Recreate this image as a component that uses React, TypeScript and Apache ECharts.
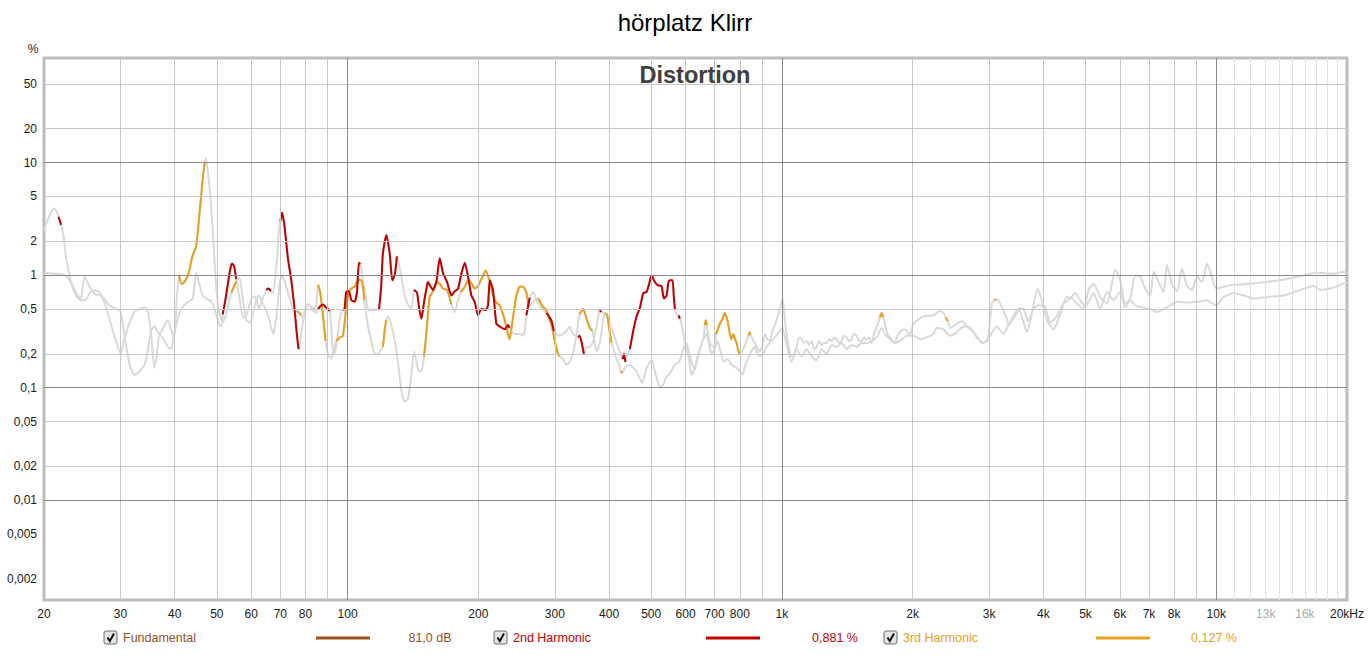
import React, { useEffect, useRef } from "react";
import * as echarts from "echarts";

// ---------- data (frequency in Hz, distortion in %) ----------
const h2Low: [number, number][] = [
  [20, 2.5], [20.6, 3.4], [21.1, 3.9], [21.4, 3.7], [21.6, 3.3], [21.9, 2.8], [22.2, 2.2], [22.5, 1.4],
  [23.1, 0.86], [23.7, 0.66], [24.3, 0.6], [24.9, 0.6], [25.5, 0.7], [26.2, 0.74], [26.9, 0.7], [27.5, 0.58],
  [28.1, 0.45], [28.8, 0.32], [29.4, 0.25], [30.0, 0.2], [30.6, 0.27], [31.5, 0.38], [32.3, 0.47], [33.2, 0.5],
  [34.1, 0.52], [34.7, 0.47], [35.3, 0.3], [35.9, 0.15], [36.4, 0.2], [36.9, 0.3], [37.9, 0.26], [38.6, 0.23],
  [39.2, 0.22], [39.9, 0.3], [40.7, 0.42], [41.7, 0.52], [42.9, 0.58], [44.0, 0.62], [44.8, 1.05], [45.6, 0.82],
  [46.4, 0.66], [47.2, 0.62], [48.1, 0.6], [49.0, 0.55], [49.8, 0.45], [50.7, 0.36], [51.2, 0.35], [51.6, 0.45],
  [52.3, 0.6], [53.0, 0.83], [53.6, 1.1], [54.2, 1.27], [54.8, 1.2], [55.4, 0.92], [56.4, 0.62], [57.4, 0.42],
  [58.4, 0.44], [59.5, 0.55], [60.5, 0.65], [61.6, 0.62], [62.5, 0.5], [63.3, 0.58], [64.4, 0.68], [65.0, 0.74],
  [65.8, 0.76], [66.6, 0.72], [67.3, 0.7], [68.7, 1.3], [69.5, 2.5], [70.0, 3.0], [70.7, 3.6], [71.6, 2.7],
  [72.9, 1.4], [74.2, 0.9], [75.5, 0.5], [76.4, 0.3], [77.1, 0.22], [78.2, 0.3], [79.2, 0.42], [80.3, 0.55],
  [81.4, 0.55], [82.5, 0.5], [83.6, 0.48], [84.7, 0.46], [85.5, 0.5], [86.5, 0.53], [87.7, 0.55], [89.0, 0.52],
  [90.1, 0.5], [91.0, 0.48], [91.7, 0.35], [92.5, 0.22], [93.3, 0.2], [94.2, 0.24], [95.0, 0.3], [95.9, 0.4],
  [96.7, 0.47], [97.6, 0.49], [98.4, 0.5], [99.3, 0.71],
];

const h2Mid: [number, number][] = [
  [100.7, 0.72], [102.0, 0.6], [103.8, 0.58], [105.1, 0.71], [106.2, 1.29], [107.0, 1.25], [107.5, 1.2],
  [108.5, 0.9], [109.4, 0.76], [111.4, 0.5], [113.4, 0.49], [115.4, 0.49], [117.5, 0.5], [118.1, 0.49],
  [119.5, 0.8], [120.6, 1.56], [122.8, 2.27], [125.0, 1.56], [126.8, 0.9], [128.4, 1.0], [129.9, 1.47],
  [131.0, 1.3], [133.0, 0.97], [135.3, 0.66], [137.8, 0.55], [140.2, 0.5], [142.2, 0.74], [144.5, 0.7],
  [146.0, 0.52], [147.9, 0.41], [150.0, 0.58], [151.8, 0.75], [153.0, 0.87], [154.5, 0.82], [157.3, 0.74],
  [160.1, 0.87], [163.0, 1.41], [165.9, 1.04], [169.4, 0.87], [173.4, 0.66], [176.5, 0.72], [179.6, 0.76],
  [182.8, 1.03], [186.1, 1.29], [189.4, 0.97], [192.8, 0.66], [196.2, 0.58], [199.7, 0.44], [203.3, 0.5],
  [208.0, 0.49], [210.5, 0.54], [212.5, 0.9], [216.2, 0.74], [220.0, 0.37], [224.0, 0.35], [230.0, 0.33],
  [234.2, 0.36], [236.0, 0.34], [239.7, 0.31], [244.8, 0.3], [249.2, 0.3], [253.6, 0.29], [256.0, 0.33],
  [258.0, 0.44], [262.6, 0.63], [267.5, 0.71], [272.0, 0.6], [278.0, 0.52], [282.0, 0.49], [287.0, 0.46],
  [291.0, 0.43], [295.0, 0.39], [298.4, 0.32], [302.7, 0.3], [308.0, 0.29], [313.5, 0.3], [319.0, 0.32],
  [324.8, 0.35], [330.0, 0.3], [337.0, 0.29], [339.5, 0.28], [342.0, 0.29], [346.0, 0.25], [350.0, 0.2],
  [355.0, 0.23], [361.2, 0.23], [368.0, 0.26], [374.2, 0.35], [378.5, 0.45], [381.0, 0.49], [383.5, 0.47],
  [388.0, 0.46], [394.6, 0.44], [405.2, 0.34], [416.0, 0.25], [427.2, 0.19], [430.0, 0.18], [433.0, 0.2],
  [436.0, 0.17], [441.0, 0.2], [446.6, 0.22], [454.6, 0.32], [462.6, 0.43], [470.9, 0.51], [479.3, 0.69],
  [487.9, 0.71], [494.8, 0.84], [501.0, 1.0], [509.8, 0.87], [519.0, 0.81], [528.3, 0.8], [534.9, 0.62],
  [542.4, 0.66], [547.3, 0.84], [552.1, 0.9], [560.0, 0.9], [563.5, 0.66], [567.0, 0.5], [573.0, 0.45],
  [578.0, 0.44], [582.0, 0.41], [587.4, 0.37], [595.0, 0.28], [603.0, 0.22], [611.0, 0.18], [619.2, 0.13],
  [630.2, 0.15], [640.0, 0.19], [647.2, 0.22], [660.0, 0.27], [670.8, 0.3], [680.0, 0.24], [688.8, 0.2],
  [700.0, 0.22], [710.0, 0.26], [720.0, 0.22], [735.0, 0.17], [750.0, 0.18], [765.0, 0.16], [786.4, 0.15],
  [800.0, 0.14], [812.0, 0.13], [821.8, 0.155], [835.0, 0.18], [850.0, 0.21], [866.6, 0.23], [880.0, 0.2],
  [890.0, 0.19], [905.0, 0.2], [920.0, 0.23], [938.4, 0.25], [963.6, 0.28], [989.4, 0.32],
];

const h2High: [number, number][] = [
  [1003.6, 0.34], [1025, 0.24], [1053, 0.17], [1081, 0.22], [1110, 0.19], [1140, 0.22], [1171, 0.19],
  [1202, 0.175], [1234, 0.22], [1267, 0.2], [1302, 0.24], [1337, 0.23], [1372, 0.25], [1409, 0.22],
  [1447, 0.24], [1486, 0.23], [1526, 0.25], [1567, 0.25], [1609, 0.26], [1652, 0.28], [1697, 0.34],
  [1727, 0.3], [1774, 0.27], [1821, 0.25], [1870, 0.26], [1939, 0.29], [2008, 0.29], [2080, 0.27],
  [2156, 0.28], [2232, 0.3], [2272, 0.34], [2354, 0.33], [2440, 0.29], [2527, 0.31], [2618, 0.35],
  [2713, 0.34], [2810, 0.28], [2911, 0.25], [3016, 0.29], [3124, 0.35], [3237, 0.3], [3325, 0.36],
  [3444, 0.43], [3537, 0.51], [3600, 0.5], [3697, 0.39], [3796, 0.5], [3899, 0.54], [4038, 0.52],
  [4146, 0.38], [4295, 0.43], [4449, 0.56], [4610, 0.62], [4734, 0.69], [4861, 0.6], [4992, 0.52],
  [5217, 0.69], [5406, 0.5], [5601, 0.71], [5802, 0.6], [6011, 0.71], [6172, 0.52], [6337, 0.6],
  [6508, 0.54], [6683, 0.52], [7047, 0.5], [7303, 0.47], [7566, 0.5], [7837, 0.54], [8120, 0.58],
  [8561, 0.57], [9026, 0.58], [9518, 0.6], [10002, 0.54], [10400, 0.64], [10966, 0.69], [11564, 0.66],
  [12192, 0.62], [13088, 0.64], [14298, 0.66], [15614, 0.74], [16760, 0.8], [17368, 0.74], [18312, 0.76],
  [19312, 0.82], [20000, 0.855],
];

const h3Low: [number, number][] = [
  [20, 1.05], [21, 1.03], [22, 1.02], [22.5, 0.98], [23.1, 0.85], [23.7, 0.7], [24.3, 0.62], [24.8, 0.97],
  [25.5, 0.78], [26.2, 0.68], [26.9, 0.66], [27.5, 0.62], [28.1, 0.55], [28.8, 0.52], [29.4, 0.5], [30.0, 0.48],
  [30.6, 0.3], [31.5, 0.16], [32.3, 0.13], [33.2, 0.14], [34.1, 0.16], [34.7, 0.22], [35.3, 0.32], [35.9, 0.35],
  [36.9, 0.3], [37.9, 0.36], [38.6, 0.4], [39.2, 0.33], [39.9, 0.28], [40.4, 0.6], [40.9, 1.0], [41.3, 0.86],
  [41.7, 0.84], [42.9, 1.0], [44.0, 1.5], [44.8, 1.8], [45.6, 3.5], [46.4, 7.2], [46.9, 10.0], [47.2, 11.0],
  [48.1, 6.0], [49.0, 2.3], [49.8, 0.8], [50.7, 0.45], [51.6, 0.38], [52.5, 0.45], [53.2, 0.55], [54.0, 0.7],
  [54.8, 0.8], [55.4, 0.88], [56.4, 0.95], [57.4, 0.6], [58.4, 0.4], [59.5, 0.38], [60.5, 0.45], [61.6, 0.6],
  [62.5, 0.66], [63.3, 0.6], [64.4, 0.52], [65.5, 0.45], [66.6, 0.35], [67.5, 0.3], [68.7, 0.45], [69.8, 0.85],
  [70.6, 1.0], [71.5, 0.9], [72.9, 0.7], [74.2, 0.55], [75.5, 0.48], [76.4, 0.48], [77.1, 0.47], [78.2, 0.44],
  [79.2, 0.42], [80.3, 0.5], [81.4, 0.55], [82.5, 0.52], [83.6, 0.5], [84.7, 0.55], [85.5, 0.82], [86.5, 0.7],
  [87.7, 0.45], [89.0, 0.26], [90.1, 0.2], [91.7, 0.18], [93.0, 0.22], [94.2, 0.26], [95.9, 0.28], [97.6, 0.29],
  [99.3, 0.52],
];

const h3Mid: [number, number][] = [
  [100.7, 0.71], [102.0, 0.76], [103.8, 0.79], [105.6, 0.9], [107.5, 0.9], [108.5, 0.79], [109.2, 0.6],
  [110.4, 0.45], [111.4, 0.35], [113.4, 0.26], [115.4, 0.2], [117.5, 0.2], [119.5, 0.22], [120.6, 0.23],
  [121.8, 0.33], [122.8, 0.4], [124.0, 0.43], [126.8, 0.33], [129.9, 0.2], [133.0, 0.095], [135.3, 0.075],
  [137.8, 0.08], [140.2, 0.13], [142.2, 0.21], [144.5, 0.16], [146.0, 0.14], [147.9, 0.14], [150.0, 0.19],
  [151.8, 0.3], [154.5, 0.64], [157.3, 0.72], [160.1, 0.87], [163.0, 0.84], [165.9, 0.76], [169.4, 0.74],
  [173.4, 0.55], [176.5, 0.47], [179.6, 0.6], [182.0, 0.7], [186.1, 0.79], [189.4, 0.9], [192.8, 0.85],
  [196.2, 0.76], [199.7, 0.8], [203.3, 0.92], [208.0, 1.1], [212.5, 0.87], [216.2, 0.66], [220.0, 0.57],
  [224.0, 0.54], [230.0, 0.4], [234.2, 0.3], [236.0, 0.27], [239.7, 0.39], [244.8, 0.66], [249.2, 0.79],
  [253.6, 0.79], [258.0, 0.7], [261.0, 0.53], [265.0, 0.55], [270.0, 0.6], [274.6, 0.62], [282.0, 0.52],
  [286.0, 0.5], [290.0, 0.43], [294.8, 0.36], [300.0, 0.26], [305.0, 0.2], [308.0, 0.19], [313.5, 0.18],
  [319.0, 0.16], [324.8, 0.17], [330.0, 0.2], [337.0, 0.3], [342.0, 0.45], [348.6, 0.5], [355.0, 0.41],
  [361.2, 0.34], [366.0, 0.32], [370.0, 0.26], [374.2, 0.21], [380.8, 0.25], [387.0, 0.38], [392.0, 0.46],
  [396.0, 0.44], [401.0, 0.32], [405.2, 0.25], [410.0, 0.22], [416.0, 0.18], [422.0, 0.16], [425.5, 0.14],
  [429.0, 0.135], [434.8, 0.15], [446.6, 0.16], [454.6, 0.15], [462.6, 0.14], [470.9, 0.12], [477.0, 0.11],
  [487.9, 0.15], [501.0, 0.175], [509.8, 0.14], [519.0, 0.11], [525.0, 0.1], [534.9, 0.11], [542.4, 0.125],
  [552.1, 0.134], [567.0, 0.16], [580.2, 0.17], [590.0, 0.21], [603.0, 0.25], [612.0, 0.2], [619.2, 0.17],
  [630.2, 0.145], [640.0, 0.19], [647.2, 0.22], [660.0, 0.28], [664.5, 0.36], [668.0, 0.4], [671.5, 0.36],
  [676.0, 0.3], [685.0, 0.24], [697.0, 0.23], [704.8, 0.3], [712.0, 0.33], [720.0, 0.37], [730.0, 0.41],
  [738.0, 0.46], [743.0, 0.44], [751.0, 0.38], [759.0, 0.3], [765.0, 0.27], [772.6, 0.3], [780.0, 0.27],
  [786.4, 0.25], [797.4, 0.2], [810.0, 0.21], [825.0, 0.25], [838.0, 0.29], [842.0, 0.31], [847.0, 0.3],
  [852.0, 0.28], [866.6, 0.25], [880.0, 0.22], [890.0, 0.21], [905.0, 0.25], [914.0, 0.3], [926.0, 0.27],
  [938.4, 0.26], [951.0, 0.32], [963.6, 0.36], [976.0, 0.42], [989.4, 0.5],
];

const h3High: [number, number][] = [
  [1003.6, 0.62], [1015, 0.42], [1025, 0.3], [1039, 0.22], [1053, 0.19], [1067, 0.2], [1081, 0.23],
  [1095, 0.28], [1110, 0.27], [1125, 0.25], [1140, 0.26], [1155, 0.24], [1171, 0.26], [1187, 0.22],
  [1202, 0.23], [1218, 0.26], [1234, 0.24], [1250, 0.25], [1267, 0.25], [1285, 0.27], [1302, 0.26],
  [1320, 0.28], [1337, 0.27], [1355, 0.25], [1372, 0.26], [1390, 0.29], [1409, 0.28], [1428, 0.26],
  [1447, 0.27], [1466, 0.3], [1486, 0.29], [1506, 0.26], [1526, 0.26], [1546, 0.28], [1567, 0.27],
  [1588, 0.28], [1609, 0.25], [1630, 0.3], [1652, 0.34], [1680, 0.42], [1697, 0.46], [1712, 0.42],
  [1727, 0.37], [1750, 0.3], [1774, 0.28], [1797, 0.26], [1821, 0.25], [1845, 0.29], [1870, 0.31],
  [1900, 0.33], [1938, 0.32], [1970, 0.29], [2008, 0.37], [2118, 0.43], [2232, 0.44], [2312, 0.48],
  [2354, 0.46], [2385, 0.42], [2410, 0.39], [2440, 0.34], [2527, 0.37], [2596, 0.39], [2689, 0.34],
  [2786, 0.3], [2885, 0.25], [2974, 0.26], [3043, 0.56], [3085, 0.6], [3115, 0.61], [3151, 0.6],
  [3208, 0.52], [3296, 0.41], [3325, 0.36], [3414, 0.44], [3506, 0.5], [3600, 0.38], [3664, 0.31],
  [3762, 0.46], [3878, 0.75], [3968, 0.6], [4074, 0.4], [4220, 0.33], [4371, 0.45], [4529, 0.64],
  [4651, 0.62], [4776, 0.56], [4948, 0.5], [5081, 0.74], [5217, 0.84], [5406, 0.64], [5601, 0.56],
  [5854, 1.11], [6011, 0.9], [6172, 0.56], [6337, 0.62], [6508, 1.0], [6683, 0.97], [6863, 0.76],
  [7047, 0.66], [7174, 1.07], [7368, 0.87], [7566, 0.7], [7699, 1.23], [7906, 0.84], [8120, 0.72],
  [8337, 1.15], [8561, 0.8], [8790, 0.74], [9026, 0.97], [9270, 0.87], [9518, 1.27], [9773, 0.97],
  [10002, 0.76], [10400, 0.79], [10966, 0.82], [11978, 0.84], [13088, 0.87], [14298, 0.915],
  [15614, 0.98], [17062, 1.05], [18642, 1.03], [19660, 1.07], [20000, 1.03],
];

// frequency ranges where the harmonic is shown in colour (valid), grey elsewhere
const h2ValidRanges: [number, number][] = [
  [21.55, 21.95], [51.5, 55.5], [64.9, 66.7], [69.9, 77.2], [85.4, 91.1], [97.5, 107.1], [118, 130],
  [142, 231], [234, 236.5], [257, 263], [286, 299], [339, 351], [380, 384], [429, 437], [446, 568], [577, 583],
];
const h3ValidRanges: [number, number][] = [
  [40.8, 46.95], [53.9, 55.5], [76.3, 78.3], [85.4, 89.1], [94.0, 109.3], [120.5, 123], [149.9, 174],
  [181.5, 261.5], [274, 308.5], [341, 366.5], [391, 406], [425, 430], [664, 672], [704, 798], [838, 848],
  [1675, 1715], [2380, 2412], [3080, 3120],
];

// axis tick labels and grid lines
const xLabelValues = [20, 30, 40, 50, 60, 70, 80, 100, 200, 300, 400, 500, 600, 700, 800, 1000, 2000, 3000,
  4000, 5000, 6000, 7000, 8000, 10000, 13000, 16000, 20000];
const xDimLabels = [13000, 16000];
const yLabelValues = [50, 20, 10, 5, 2, 1, 0.5, 0.2, 0.1, 0.05, 0.02, 0.01, 0.005, 0.002];
const xGridMinor = [30, 40, 50, 60, 70, 80, 90, 200, 300, 400, 500, 600, 700, 800, 900,
  2000, 3000, 4000, 5000, 6000, 7000, 8000, 9000];
const xGridFine = [11000, 12000, 13000, 14000, 15000, 16000, 17000, 18000, 19000];
const xGridMajor = [100, 1000, 10000];
const yGridMinor = [50, 20, 5, 2, 0.5, 0.2, 0.05, 0.02, 0.005, 0.002];
const yGridMajor = [10, 1, 0.1, 0.01];

// legend entries
const legendLabels = ["Fundamental", "2nd Harmonic", "3rd Harmonic"];
const legendValues = ["81,0 dB", "0,881 %", "0,127 %"];

const COLORS = {
  fundamental: "#98501c",
  h2: "#c00000",
  h3: "#e6a11e",
  grey: "#d9d9d9",
};
const legendColors = [COLORS.fundamental, COLORS.h2, COLORS.h3];
const legendBoxX = [104, 494, 884];
const legendValueX = [430, 835, 1214];

const FONT = "'Liberation Sans', Arial, Helvetica, sans-serif";

function inRanges(f: number, ranges: [number, number][]) {
  return ranges.some(([a, b]) => f >= a && f <= b);
}

function masked(points: [number, number][], ranges: [number, number][]) {
  return points.map(([f, v]) => [f, inRanges(f, ranges) ? v : "-"]);
}

export default function App() {
  const ref = useRef<HTMLDivElement>(null);

  useEffect(() => {
    if (!ref.current) return;
    const chart = echarts.init(ref.current, undefined, { renderer: "svg" });

    const h2 = [...h2Low, ...h2Mid, ...h2High];
    const h3 = [...h3Low, ...h3Mid, ...h3High];

    const gridLines: any[] = [
      ...xGridMinor.map((v) => ({ xAxis: v, lineStyle: { color: "#c8c8c8" } })),
      ...xGridFine.map((v) => ({ xAxis: v, lineStyle: { color: "#e2e2e2" } })),
      ...yGridMinor.map((v) => ({ yAxis: v, lineStyle: { color: "#c8c8c8" } })),
      ...xGridMajor.map((v) => ({ xAxis: v, lineStyle: { color: "#8a8a8a" } })),
      ...yGridMajor.map((v) => ({ yAxis: v, lineStyle: { color: "#8a8a8a" } })),
    ];

    const legendGraphics: any[] = [];
    legendLabels.forEach((label, i) => {
      const x0 = legendBoxX[i];
      const y0 = 631;
      legendGraphics.push({
        type: "rect",
        shape: { x: x0, y: y0, width: 13, height: 13, r: 2 },
        style: { fill: "#e4e4e4", stroke: "#6e6e6e", lineWidth: 1 },
      });
      legendGraphics.push({
        type: "polyline",
        shape: { points: [[x0 + 3.5, y0 + 6.5], [x0 + 5.8, y0 + 10], [x0 + 10, y0 + 2.5]] },
        style: { stroke: "#111", lineWidth: 2, fill: null },
      });
      legendGraphics.push({
        type: "text",
        x: x0 + 19,
        y: 638,
        style: { text: label, fill: legendColors[i], font: `12.5px ${FONT}`, textVerticalAlign: "middle" },
      });
      legendGraphics.push({
        type: "line",
        shape: { x1: x0 + 212, y1: 638, x2: x0 + 266, y2: 638 },
        style: { stroke: legendColors[i], lineWidth: 3 },
      });
      legendGraphics.push({
        type: "text",
        x: legendValueX[i],
        y: 638,
        style: {
          text: legendValues[i],
          fill: legendColors[i],
          font: `12.5px ${FONT}`,
          textAlign: "center",
          textVerticalAlign: "middle",
        },
      });
    });

    const curveBase = {
      type: "line",
      showSymbol: false,
      symbol: "none",
      smooth: 0.2,
      connectNulls: false,
      silent: true,
      animation: false,
    };

    chart.setOption({
      animation: false,
      backgroundColor: "#ffffff",
      textStyle: { fontFamily: FONT },
      grid: {
        left: 44,
        right: 22,
        top: 58,
        bottom: 58,
        show: true,
        borderColor: "#bdbdbd",
        borderWidth: 3,
        backgroundColor: "#ffffff",
      },
      xAxis: {
        type: "log",
        logBase: 10,
        min: 20,
        max: 20000,
        axisLine: { show: false },
        axisTick: { show: false },
        splitLine: { show: false },
        minorSplitLine: { show: false },
        axisLabel: {
          customValues: xLabelValues,
          showMinLabel: true,
          showMaxLabel: true,
          hideOverlap: false,
          margin: 8,
          fontSize: 12,
          fontFamily: FONT,
          color: (v: any) => (xDimLabels.includes(Number(v)) ? "#a8a8a8" : "#1a1a1a"),
          formatter: (v: number) => {
            const n = Number(v);
            if (n >= 20000) return "20kHz";
            if (n >= 1000) return `${Math.round(n / 1000)}k`;
            return String(Math.round(n));
          },
        },
      },
      yAxis: {
        type: "log",
        logBase: 10,
        min: 0.0013,
        max: 85,
        axisLine: { show: false },
        axisTick: { show: false },
        splitLine: { show: false },
        minorSplitLine: { show: false },
        axisLabel: {
          customValues: yLabelValues,
          showMinLabel: true,
          showMaxLabel: true,
          hideOverlap: false,
          margin: 7,
          fontSize: 12,
          fontFamily: FONT,
          color: "#1a1a1a",
          formatter: (v: number) => String(Number(v)).replace(".", ","),
        },
      },
      graphic: [
        {
          type: "text",
          x: 685,
          y: 22,
          style: {
            text: "hörplatz Klirr",
            fill: "#000",
            font: `24px ${FONT}`,
            textAlign: "center",
            textVerticalAlign: "middle",
          },
        },
        {
          type: "text",
          x: 695,
          y: 75,
          z: 100,
          style: {
            text: "Distortion",
            fill: "#404040",
            font: `bold 23.5px ${FONT}`,
            textAlign: "center",
            textVerticalAlign: "middle",
          },
        },
        {
          type: "text",
          x: 33,
          y: 49,
          style: { text: "%", fill: "#1a1a1a", font: `12px ${FONT}`, textAlign: "center", textVerticalAlign: "middle" },
        },
        ...legendGraphics,
      ],
      series: [
        {
          name: "grid",
          type: "line",
          data: [[20, 1]],
          showSymbol: false,
          symbol: "none",
          lineStyle: { opacity: 0 },
          silent: true,
          z: 1,
          markLine: {
            silent: true,
            symbol: ["none", "none"],
            animation: false,
            label: { show: false },
            lineStyle: { type: "solid", width: 1 },
            emphasis: { disabled: true },
            data: gridLines,
          },
        },
        { ...curveBase, name: "h2grey", data: h2, z: 2, lineStyle: { color: COLORS.grey, width: 2 } },
        { ...curveBase, name: "h3grey", data: h3, z: 2, lineStyle: { color: COLORS.grey, width: 2 } },
        { ...curveBase, name: "3rd Harmonic", data: masked(h3, h3ValidRanges), z: 3, lineStyle: { color: COLORS.h3, width: 2 } },
        { ...curveBase, name: "2nd Harmonic", data: masked(h2, h2ValidRanges), z: 4, lineStyle: { color: COLORS.h2, width: 2 } },
      ],
    });

    return () => chart.dispose();
  }, []);

  return (
    <div
      ref={ref}
      style={{ position: "absolute", left: 0, top: 0, width: 1369, height: 658, background: "#fff" }}
    />
  );
}
